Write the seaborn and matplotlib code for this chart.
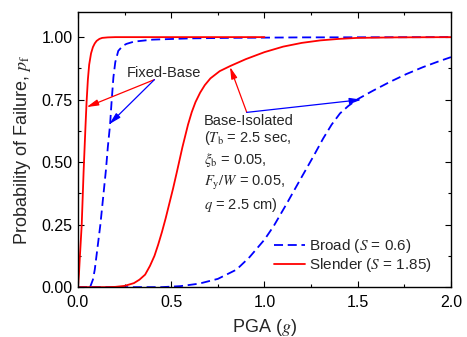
import numpy as np
import pandas as pd
import matplotlib
matplotlib.use("Agg")
import matplotlib.pyplot as plt
import seaborn as sns
from matplotlib.ticker import MultipleLocator

# ---- data ----
fixed_slender_x = [0.0, 0.005, 0.01, 0.02, 0.03, 0.04, 0.046, 0.053, 0.06, 0.07, 0.08, 0.09, 0.1, 0.115, 0.13, 0.16, 0.2, 0.3, 1.0]
fixed_slender_y = [0.0, 0.05, 0.12, 0.25, 0.46, 0.64, 0.74, 0.83, 0.89, 0.935, 0.96, 0.975, 0.985, 0.993, 0.997, 0.999, 1.0, 1.0, 1.0]

fixed_broad_x = [0.065, 0.08, 0.09, 0.1, 0.11, 0.12, 0.135, 0.15, 0.16, 0.172, 0.18, 0.19, 0.2, 0.216, 0.24, 0.26, 0.3, 0.4, 0.6, 0.8, 1.2, 2.0]
fixed_broad_y = [0.0, 0.03, 0.07, 0.13, 0.19, 0.25, 0.36, 0.47, 0.56, 0.65, 0.74, 0.84, 0.9, 0.945, 0.965, 0.973, 0.982, 0.99, 0.995, 0.997, 0.999, 1.0]

iso_slender_x = [0.0, 0.15, 0.2, 0.25, 0.3, 0.33, 0.36, 0.386, 0.41, 0.43, 0.45, 0.47, 0.49, 0.51, 0.53, 0.545,
                 0.56, 0.575, 0.59, 0.61, 0.63, 0.655, 0.68, 0.71, 0.76, 0.815, 0.9, 1.0, 1.1, 1.2, 1.3, 1.4, 1.5, 1.7, 2.0]
iso_slender_y = [0.0, 0.0, 0.001, 0.005, 0.016, 0.03, 0.05, 0.085, 0.125, 0.17, 0.22, 0.275, 0.335, 0.395, 0.46, 0.51,
                 0.56, 0.605, 0.65, 0.7, 0.74, 0.778, 0.808, 0.835, 0.864, 0.884, 0.912, 0.94, 0.962, 0.977, 0.987, 0.993, 0.997, 0.999, 1.0]

iso_broad_x = [0.0, 0.45, 0.55, 0.65, 0.75, 0.85, 0.92, 1.0, 1.05, 1.12, 1.19, 1.26, 1.315, 1.36, 1.405, 1.45, 1.5, 1.58, 1.67, 1.76, 1.85, 1.93, 2.0]
iso_broad_y = [0.0, 0.0, 0.004, 0.014, 0.033, 0.07, 0.12, 0.19, 0.245, 0.335, 0.428, 0.52, 0.595, 0.65, 0.695, 0.725, 0.752, 0.785, 0.82, 0.852, 0.88, 0.902, 0.92]

x_ticks = [0.0, 0.5, 1.0, 1.5, 2.0]
y_ticks = [0.0, 0.25, 0.5, 0.75, 1.0]
x_tick_labels = ["0.0", "0.5", "1.0", "1.5", "2.0"]
y_tick_labels = ["0.00", "0.25", "0.50", "0.75", "1.00"]

RED = "#ff0000"
BLUE = "#0000ff"

sns.set_style("ticks")
plt.rcParams["font.family"] = ["Liberation Sans", "DejaVu Sans"]
plt.rcParams["mathtext.fontset"] = "stix"

fig = plt.figure(figsize=(4.67, 3.37), dpi=100)
ax = fig.add_axes([0.167, 0.148, 0.7987, 0.816])

lw = 1.3
sns.lineplot(x=fixed_broad_x, y=fixed_broad_y, ax=ax, color=BLUE, lw=lw,
             linestyle=(0, (5, 2.6)), label=r"Broad ($S$ = 0.6)", sort=False, estimator=None)
sns.lineplot(x=iso_broad_x, y=iso_broad_y, ax=ax, color=BLUE, lw=lw,
             linestyle=(0, (5, 2.6)), sort=False, estimator=None)
sns.lineplot(x=fixed_slender_x, y=fixed_slender_y, ax=ax, color=RED, lw=lw,
             label=r"Slender ($S$ = 1.85)", sort=False, estimator=None)
sns.lineplot(x=iso_slender_x, y=iso_slender_y, ax=ax, color=RED, lw=lw, sort=False, estimator=None)

ax.set_xlim(0, 2.0)
ax.set_ylim(0, 1.1)
ax.set_xticks(x_ticks)
ax.set_xticklabels(x_tick_labels)
ax.set_yticks(y_ticks)
ax.set_yticklabels(y_tick_labels)
ax.xaxis.set_minor_locator(MultipleLocator(0.25))
ax.yaxis.set_minor_locator(MultipleLocator(0.125))
ax.tick_params(which="both", direction="in", top=True, right=True, colors="black", labelsize=11.5)
ax.tick_params(which="major", length=4, width=0.8, pad=4)
ax.tick_params(axis="x", which="major", pad=6)
ax.tick_params(which="minor", length=2.5, width=0.8)
for s in ax.spines.values():
    s.set_visible(True)
    s.set_color("black")
    s.set_linewidth(1.0)

ax.set_xlabel(r"PGA ($g$)", fontsize=13, labelpad=5)
ax.set_ylabel(r"Probability of Failure, $p_{\rm f}$", fontsize=13, labelpad=6)

# annotations
arrowkw = dict(arrowstyle="-|>,head_length=0.7,head_width=0.18", lw=0.9, shrinkA=0, shrinkB=0)
ax.text(0.46, 0.855, "Fixed-Base", fontsize=10.5, ha="center", va="center")
ax.annotate("", xy=(0.046, 0.72), xytext=(0.41, 0.83),
            arrowprops=dict(color=RED, **arrowkw))
ax.annotate("", xy=(0.168, 0.652), xytext=(0.41, 0.83),
            arrowprops=dict(color=BLUE, **arrowkw))

ax.annotate("", xy=(0.815, 0.881), xytext=(0.905, 0.699),
            arrowprops=dict(color=RED, **arrowkw))
ax.annotate("", xy=(1.52, 0.75), xytext=(0.905, 0.699),
            arrowprops=dict(color=BLUE, **arrowkw))

tx = 0.675
fs = 10.5
ax.text(tx, 0.665, "Base-Isolated", fontsize=fs, ha="left", va="center")
ax.text(tx, 0.595, r"($T_{\rm b}$ = 2.5 sec,", fontsize=fs, ha="left", va="center")
ax.text(tx, 0.508, r"$\xi_{\rm b}$ = 0.05,", fontsize=fs, ha="left", va="center")
ax.text(tx, 0.415, r"$F_{\rm y}/W$ = 0.05,", fontsize=fs, ha="left", va="center")
ax.text(tx, 0.328, r"$q$ = 2.5 cm)", fontsize=fs, ha="left", va="center")

leg = ax.legend(loc="lower right", frameon=False, fontsize=11, handlelength=2.0,
                handletextpad=0.3, labelspacing=0.05, borderaxespad=0,
                bbox_to_anchor=(0.966, 0.025))

fig.savefig("out.png", dpi=100)
